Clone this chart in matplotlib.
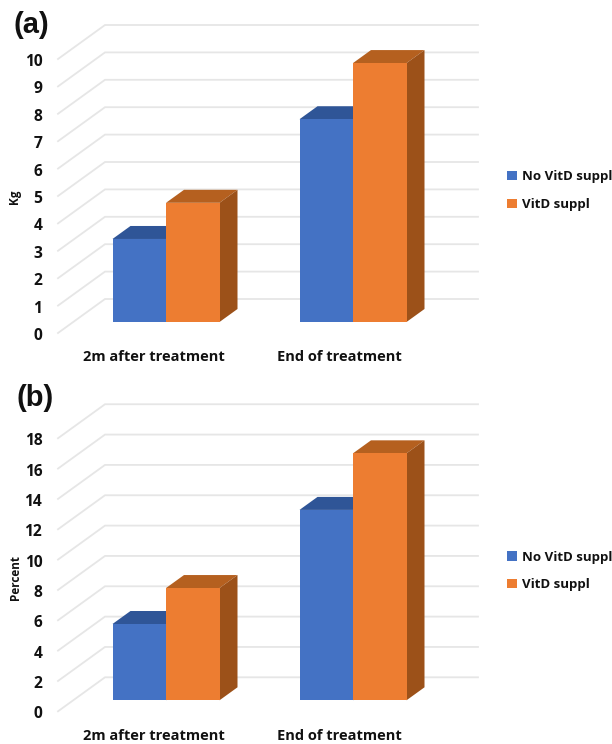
import matplotlib.pyplot as plt

plt.rcParams["font.family"] = "Open Sans"
plt.rcParams["font.weight"] = "bold"

categories = ["2m after treatment", "End of treatment"]
series_names = ["No VitD suppl", "VitD suppl"]

kg_no_vitd = [3.03, 7.4]
kg_vitd = [4.35, 9.45]
kg_ticks = list(range(0, 11))

pct_no_vitd = [5.03, 12.55]
pct_vitd = [7.4, 16.28]
pct_ticks = list(range(0, 20, 2))

BLUE = ("#4472C4", "#2F5597", "#2F5597")
ORANGE = ("#ED7D31", "#B5601F", "#9C5119")
W, H = 612, 744
X_UNIT = 187.0  # px between the two groups
BAR_W = 53.5


def draw_panel(base_px, unit_px, no_vitd, vitd, ticks, ylabel, letter, letter_xy, ylabel_y, legend_y):
    # base_px = y pixel of bar baseline, unit_px = pixels per one y unit
    left, right = 52, 490
    top, bottom = base_px - 307, base_px + 18
    ax = plt.gcf().add_axes([left / W, 1 - bottom / H, (right - left) / W, (bottom - top) / H])
    ax.set_xlim((left - 166) / X_UNIT, (right - 166) / X_UNIT)
    ax.set_ylim(-(bottom - base_px) / unit_px, (base_px - top) / unit_px)

    dx_px = lambda p: p / X_UNIT
    dy_px = lambda p: p / unit_px

    # grid: floor/wall lines running from front-left to the back wall
    back_x0, back_x1 = dx_px(105 - 166), dx_px(478 - 166)
    front_x = dx_px(58 - 166)
    for v in ticks:
        yb = v + dy_px(23)
        yf = v - dy_px(11)
        ax.plot([front_x, back_x0, back_x1], [yf, yb, yb], color="#E6E6E6", lw=1.3, zorder=1,
                solid_joinstyle="miter")

    w = BAR_W / X_UNIT
    ddx, ddy = dx_px(18), dy_px(13)
    for i, (vals, cols, off) in enumerate(zip((no_vitd, vitd), (BLUE, ORANGE), (-w / 2, w / 2))):
        z = 2 + i
        for g, val in enumerate(vals):
            x0 = g + off - w / 2
            x1 = x0 + w
            ax.fill([x0, x0 + ddx, x1 + ddx, x1], [val, val + ddy, val + ddy, val], color=cols[1], lw=0, zorder=z)
            ax.fill([x1, x1 + ddx, x1 + ddx, x1], [0, ddy, val + ddy, val], color=cols[2], lw=0, zorder=z)
        ax.bar([g + off for g in range(len(vals))], vals, w, color=cols[0], lw=0, zorder=z + 0.5,
               label=series_names[i])

    ax.set_yticks([v - dy_px(12) for v in ticks], [str(v) for v in ticks], fontsize=11.2, color="#111111")
    ax.set_xticks([-0.067, 0.925], categories, fontsize=10.5, color="#111111")
    ax.tick_params(length=0, pad=7)
    ax.tick_params(axis="x", pad=7.5)
    for s in ax.spines.values():
        s.set_visible(False)
    ax.patch.set_alpha(0)

    ax.legend(loc="center left", bbox_to_anchor=(507 / W, 1 - legend_y / H),
              bbox_transform=plt.gcf().transFigure, frameon=False, fontsize=9.5,
              handlelength=0.72, handleheight=0.72, handletextpad=0.38, labelspacing=1.12,
              borderpad=0, borderaxespad=0, labelcolor="#111111")

    plt.gcf().text(15 / W, 1 - ylabel_y / H, ylabel, rotation=90, fontsize=8.5, ha="center", va="center",
                   color="#111111")
    plt.gcf().text(letter_xy[0] / W, 1 - letter_xy[1] / H, letter, fontsize=21, ha="left", va="center",
                   color="#111111", fontfamily="Liberation Sans", fontweight="bold")


fig = plt.figure(figsize=(W / 100, H / 100), dpi=100)
draw_panel(322, 27.4, kg_no_vitd, kg_vitd, kg_ticks, "Kg", "(a)", (14, 25), 197, 190.5)
draw_panel(700.3, 15.17, pct_no_vitd, pct_vitd, pct_ticks, "Percent", "(b)", (17, 398), 577, 571)
fig.savefig("out.png", dpi=100)
